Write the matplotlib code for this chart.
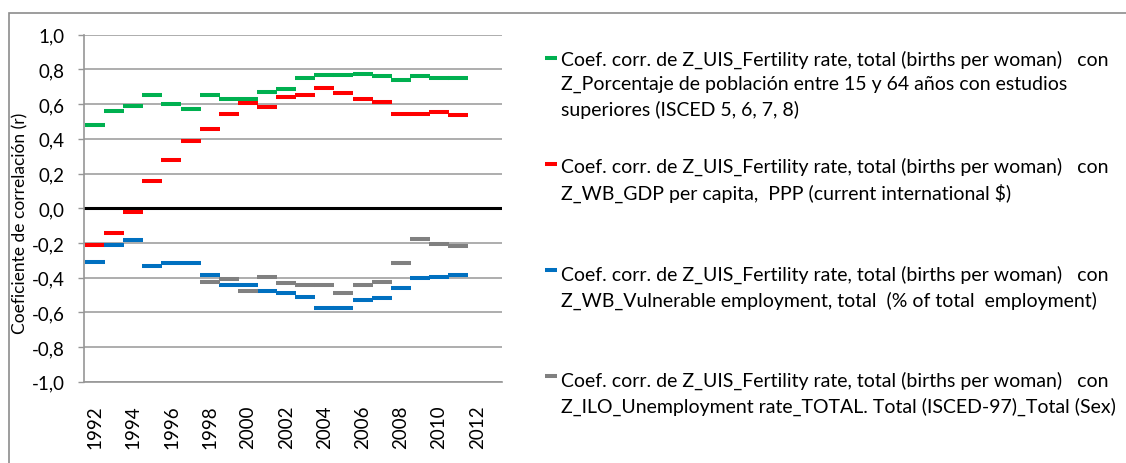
import matplotlib
matplotlib.use("Agg")
import numpy as np
import matplotlib.pyplot as plt
from matplotlib.lines import Line2D
from matplotlib.patches import Rectangle
from matplotlib.ticker import FuncFormatter

# datos
anios = list(range(1992, 2012))
coef_superiores = [0.48, 0.56, 0.59, 0.65, 0.60, 0.57, 0.655, 0.63, 0.63, 0.67,
                   0.685, 0.75, 0.765, 0.765, 0.775, 0.76, 0.74, 0.76, 0.75, 0.75]
coef_pib = [-0.21, -0.145, -0.02, 0.155, 0.28, 0.385, 0.455, 0.545, 0.605, 0.585,
            0.64, 0.655, 0.695, 0.665, 0.63, 0.61, 0.545, 0.545, 0.555, 0.54]
coef_vulnerable = [-0.31, -0.21, -0.185, -0.33, -0.315, -0.315, -0.385, -0.44, -0.445, -0.475,
                   -0.49, -0.51, -0.575, -0.575, -0.53, -0.52, -0.46, -0.40, -0.395, -0.385]
anios_desempleo = list(range(1998, 2012))
coef_desempleo = [-0.425, -0.41, -0.475, -0.395, -0.43, -0.445, -0.445, -0.49,
                  -0.445, -0.425, -0.315, -0.175, -0.205, -0.22]

base = "Coef. corr. de Z_UIS_Fertility rate, total (births per woman)   con\n"
etiquetas = [
    base + "Z_Porcentaje de población entre 15 y 64 años con estudios\nsuperiores (ISCED 5, 6, 7, 8)",
    base + "Z_WB_GDP per capita,  PPP (current international \\$)",
    base + "Z_WB_Vulnerable employment, total  (% of total  employment)",
    base + "Z_ILO_Unemployment rate_TOTAL. Total (ISCED-97)_Total (Sex)",
]
colores = ["#00B050", "#FF0000", "#0070C0", "#808080"]

plt.rcParams["font.family"] = ["Lato", "DejaVu Sans"]

fig = plt.figure(figsize=(11.26, 4.64), dpi=100)
W, H = 1126, 464
ax = fig.add_axes([84 / W, 1 - 382.8 / H, 418 / W, (382.8 - 35.7) / H])

series = [(anios, coef_superiores), (anios, coef_pib),
          (anios, coef_vulnerable), (anios_desempleo, coef_desempleo)]
for (x, y), c in zip(series, colores):
    ax.plot(x, y, linestyle="none", marker="_", markersize=15.1,
            markeredgewidth=2.9, color=c, zorder=3)

ax.axhline(0, color="black", linewidth=2.2, zorder=2)

ax.set_ylim(-1.0, 1.0)
ax.set_xlim(1991.42, 2013.3)
ax.set_yticks(np.arange(-1.0, 1.01, 0.2))
ax.yaxis.set_major_formatter(FuncFormatter(lambda v, p: f"{v:.1f}".replace(".", ",").replace("-0,0", "0,0")))
ax.set_xticks(range(1992, 2013, 2))
ax.tick_params(axis="x", length=0, pad=16, labelrotation=90, labelsize=13.5)
ax.tick_params(axis="y", length=4.3, width=1, color="#969696", pad=9.5, labelsize=13.5)
ax.grid(axis="y", color="#A0A0A0", linewidth=1.2)
ax.set_axisbelow(True)
for s in ["top", "right"]:
    ax.spines[s].set_visible(False)
for s in ["left", "bottom"]:
    ax.spines[s].set_color("#969696")
    ax.spines[s].set_linewidth(1.2)

ax.set_ylabel("Coeficiente de correlación (r)", fontsize=12.5)
ax.yaxis.set_label_coords(-0.134, 0.46)

# leyenda a la derecha
centros_marca = [59, 165, 271, 377]
centros_texto = [59, 166, 274, 380]
for lab, c, ym, yt in zip(etiquetas, colores, centros_marca, centros_texto):
    fig.add_artist(Line2D([545 / W, 557 / W], [1 - ym / H] * 2,
                          color=c, linewidth=2.9, solid_capstyle="butt"))
    fig.text(561 / W, 1 - (yt - 8.5) / H, lab, fontsize=14.0, va="top",
             ha="left", linespacing=1.5)

# marco exterior
fig.add_artist(Rectangle((9 / W, -0.05), 1.1, 1 - 14 / H + 0.05,
                         transform=fig.transFigure, fill=False,
                         edgecolor="#8C8C8C", linewidth=1.2))

fig.savefig("out.png", dpi=100)
